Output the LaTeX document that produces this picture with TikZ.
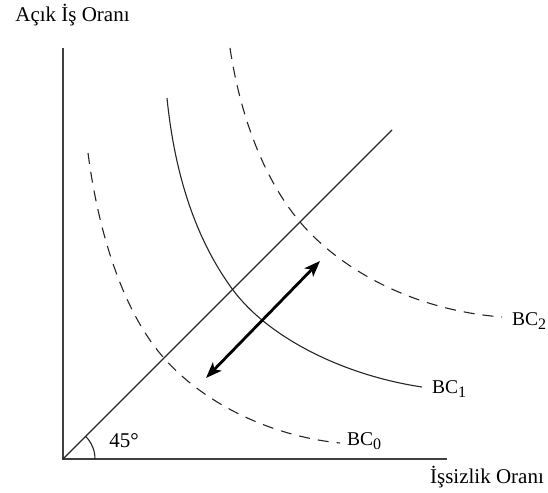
\documentclass[tikz,border=0pt]{standalone}
\usepackage{fontspec}
\setmainfont{Liberation Serif}
\usetikzlibrary{arrows.meta}
\newcommand{\bcsub}[1]{\raisebox{-4.5pt}{\fontsize{16}{18}\selectfont #1}}
\begin{document}
\begin{tikzpicture}[x=1pt,y=-1pt,
  axis/.style={draw=black!75,line width=1.4pt},
  curve/.style={draw=black!85,line width=1.1pt},
  dashcurve/.style={curve,dash pattern=on 11pt off 8pt},
  axlabel/.style={font=\fontsize{21}{24}\selectfont,inner sep=0pt},
  bclabel/.style={font=\fontsize{19.5}{22}\selectfont,inner sep=0pt,anchor=west},
  shiftarrow/.style={line width=2.8pt,{Stealth[length=16pt,width=12pt,inset=4pt]}-{Stealth[length=16pt,width=12pt,inset=4pt]}}]
\useasboundingbox (0,0) rectangle (548,492);
\coordinate (O) at (63,459);
\coordinate (ytop) at (63,48);
\coordinate (xend) at (447,459);
\coordinate (dend) at (392,130);
\draw[axis] (ytop) -- (O) -- (xend);
\draw[curve] (O) -- (dend);
\draw[curve] ([xshift=32pt]O) arc[start angle=0,end angle=45,radius=32pt];
\node[axlabel] (ylab) at (72.5,15) {Açık İş Oranı};
\node[axlabel] (xlab) at (487,477) {İşsizlik Oranı};
\node[font=\fontsize{21}{24}\selectfont,inner sep=0pt] (ang) at (124,441) {45°};
% BC0
\coordinate (b0s) at (88,153);
\coordinate (b0m) at (163,357);
\coordinate (b0e) at (340,443);
\draw[dashcurve] (b0s) .. controls (98.4,233) and (123,311) .. (b0m)
  .. controls (203,403) and (270,436) .. (b0e);
\node[bclabel] (bc0) at (347,441) {BC\bcsub{0}};
% BC1
\coordinate (b1s) at (167,98);
\coordinate (b1m) at (233,290);
\coordinate (b1e) at (422,387);
\draw[curve] (b1s) .. controls (174,168) and (193,236) .. (b1m)
  .. controls (268,337) and (342,375) .. (b1e);
\node[bclabel] (bc1) at (432,389) {BC\bcsub{1}};
% BC2
\coordinate (b2s) at (230,48);
\coordinate (b2m) at (300,222);
\coordinate (b2e) at (502,317);
\draw[dashcurve] (b2s) .. controls (240.5,118) and (265,180.7) .. (b2m)
  .. controls (340,269) and (412,310) .. (b2e);
\node[bclabel] (bc2) at (512,321) {BC\bcsub{2}};
% shift arrow
\coordinate (a1) at (206,378);
\coordinate (a2) at (320,261);
\draw[shiftarrow] (a1) -- (a2);
\end{tikzpicture}
\end{document}
